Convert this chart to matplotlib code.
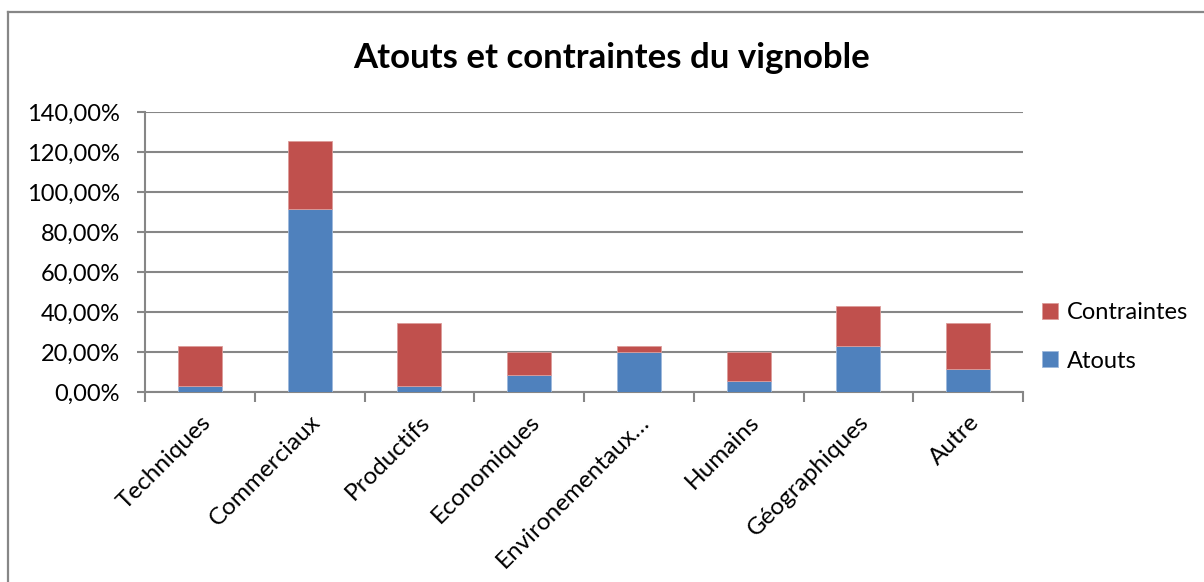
import matplotlib.pyplot as plt
from matplotlib.lines import Line2D
from matplotlib.ticker import FuncFormatter, MultipleLocator
import numpy as np

plt.rcParams['font.family'] = ['Lato', 'DejaVu Sans']

# Data (shares out of 35 responses)
categories = ['Techniques', 'Commerciaux', 'Productifs', 'Economiques',
              'Environementaux…', 'Humains', 'Géographiques', 'Autre']
atouts = [2.86, 91.43, 2.86, 8.57, 20.00, 5.71, 22.86, 11.43]
contraintes = [20.00, 34.29, 31.43, 11.43, 2.86, 14.29, 20.00, 22.86]

blue = '#4F81BD'
red = '#C0504D'
grid_c = '#868686'

W, H = 1204, 582
fig = plt.figure(figsize=(W / 100, H / 100), dpi=100)
ax = fig.add_axes([145 / W, 1 - 392 / H, (1023 - 145) / W, (392 - 112) / H])

x = np.arange(len(categories))
b1 = ax.bar(x, atouts, width=0.4, color=blue, edgecolor='#9db8dc', linewidth=0.6, zorder=3)
b2 = ax.bar(x, contraintes, width=0.4, bottom=atouts, color=red,
            edgecolor='#dc9c9a', linewidth=0.6, zorder=3)

ax.set_xlim(-0.5, len(categories) - 0.5)
ax.set_ylim(0, 140)
ax.yaxis.set_major_locator(MultipleLocator(20))
ax.yaxis.set_major_formatter(FuncFormatter(lambda v, p: f'{v:.2f}'.replace('.', ',') + '%'))
ax.grid(axis='y', color=grid_c, linewidth=1.5, zorder=0)

for s in ['top', 'right']:
    ax.spines[s].set_visible(False)
for s in ['left', 'bottom']:
    ax.spines[s].set_color(grid_c)
    ax.spines[s].set_linewidth(1.5)

ax.tick_params(axis='y', length=6, width=1.5, color=grid_c, labelsize=17, pad=12)
ax.set_xticks(x)
ax.set_xticklabels(categories, rotation=45, ha='right', rotation_mode='anchor', fontsize=17.5)
ax.tick_params(axis='x', which='major', length=0, pad=14)
ax.set_xticks(np.arange(len(categories) + 1) - 0.5, minor=True)
ax.tick_params(axis='x', which='minor', length=7, width=1.5, color=grid_c)

fig.text(612 / W, 1 - 58 / H, 'Atouts et contraintes du vignoble', ha='center', va='center',
         fontsize=25, fontweight='bold')

fig.legend([b2, b1], ['Contraintes', 'Atouts'], loc='center left',
           bbox_to_anchor=(1021 / W, 1 - 337 / H), frameon=False, fontsize=17,
           handlelength=0.65, handleheight=0.65, handletextpad=0.4, labelspacing=1.15)

# outer chart frame
fig.add_artist(Line2D([8 / W, 1], [1 - 12 / H, 1 - 12 / H], color='#878787', linewidth=1.6))
fig.add_artist(Line2D([8 / W, 8 / W], [0, 1 - 12 / H], color='#878787', linewidth=1.6))

fig.savefig('out.png', dpi=100)
